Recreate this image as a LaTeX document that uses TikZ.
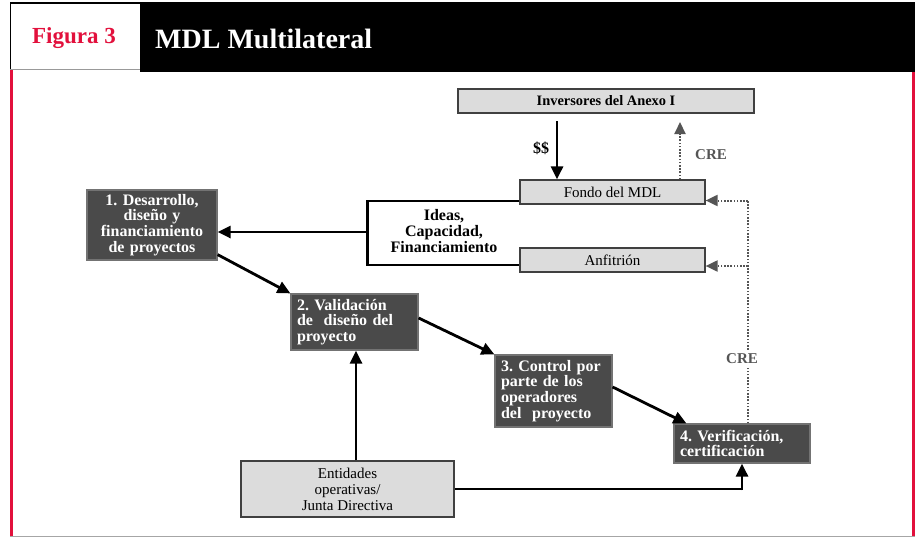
\documentclass[tikz,border=0pt]{standalone}
\usepackage{fontspec}
\setmainfont{Liberation Serif}
\usetikzlibrary{arrows.meta}
\definecolor{crim}{HTML}{E2103C}
\definecolor{darkbox}{HTML}{4A4A4A}
\definecolor{lightbox}{HTML}{DCDCDC}
\definecolor{dotgray}{HTML}{555555}
\frenchspacing
\tikzset{
  lightnode/.style={draw=black!75, fill=lightbox, line width=1.2pt, inner sep=0pt, align=center, font=\fontsize{15}{16}\selectfont},
  darknode/.style={draw=black!55, fill=darkbox, text=white, line width=1.2pt, inner xsep=6pt, inner ysep=0pt, font=\bfseries\fontsize{16}{15.7}\selectfont},
  arr/.style={line width=2.8pt, -{Triangle[length=13pt,width=12pt]}},
  solidline/.style={line width=2.8pt},
  dotline/.style={dotgray, line width=2pt, dash pattern=on 1.6pt off 1.6pt},
  dotarr/.style={dotline, -{Triangle[length=12pt,width=11pt,fill=dotgray]}},
  lbl/.style={font=\bfseries\fontsize{16}{15.7}\selectfont, align=center, inner sep=1pt},
}
\begin{document}
\begin{tikzpicture}[x=1pt,y=-1pt]
\useasboundingbox (0,0) rectangle (915,538);
% frame
\fill[black] (140,2) rectangle (915,72);
\draw[black, line width=1.3pt] (10.6,69) -- (10.6,3) -- (140,3);
\draw[black!40, line width=1.2pt] (10,69.6) -- (140,69.6);
\draw[crim, line width=2.6pt] (11.3,70) -- (11.3,536);
\draw[crim, line width=2.6pt] (913.6,72) -- (913.6,536);
\draw[black!35, line width=1.4pt] (10,536.6) -- (915,536.6);
\node[text=crim, font=\bfseries\fontsize{23}{25}\selectfont] (fig) at (74,38) {Figura 3};
\node[text=white, font=\bfseries\fontsize{28}{30}\selectfont, anchor=west, inner sep=0pt] (title) at (155,39) {MDL Multilateral};

% light boxes
\node[lightnode, minimum width=296pt, minimum height=24pt, font=\bfseries\fontsize{14.4}{15}\selectfont] (inv) at (606,101) {Inversores del Anexo I};
\node[lightnode, minimum width=185pt, minimum height=24pt] (fondo) at (612.5,192) {Fondo del MDL};
\node[lightnode, minimum width=185pt, minimum height=24pt] (anf) at (612.5,260) {Anfitrión};
\node[lightnode, minimum width=213pt, minimum height=56pt] (ent) at (347.5,489) {Entidades\\operativas/\\Junta Directiva};

% dark boxes
\node[darknode, minimum width=130pt, minimum height=70pt, text width=118pt, align=center] (n1) at (152,225) {1. Desarrollo,\\diseño y\\financiamiento\\de proyectos};
\node[darknode, minimum width=127pt, minimum height=56pt, text width=115pt, align=left] (n2) at (354.5,322) {2. Validación\\de~ diseño del\\proyecto};
\node[darknode, minimum width=117pt, minimum height=72pt, text width=105pt, align=left] (n3) at (553.5,391) {3. Control por\\parte de los\\operadores\\del~ proyecto};
\node[darknode, minimum width=136pt, minimum height=39pt, text width=124pt, align=left] (n4) at (742,443.5) {4. Verificación,\\certificación};

% $$ arrow
\coordinate (ds) at (557,121);
\draw[arr] (ds) -- (ds |- fondo.north);
\node[lbl] (dollar) at (541,148) {\$\$};

% CRE up to investors
\coordinate (cu) at (680,122);
\draw[dotarr] (cu |- fondo.north) -- (cu);
\node[lbl, text=dotgray, font=\bfseries\fontsize{15}{15}\selectfont] (cre1) at (711,155) {CRE};

% bracket from Fondo / Anfitrion to node 1
\coordinate (bt) at (367.5,201);
\coordinate (bb) at (367.5,265);
\coordinate (bm) at (367.5,232);
\draw[solidline] (fondo.west |- bt) -- (bt) -- (bb) -- (anf.west |- bb);
\draw[arr] (bm) -- (n1.east |- bm);
\node[lbl] (ideas) at (444,231) {Ideas,\\Capacidad,\\Financiamiento};

% process arrows
\draw[arr] ([yshift=6pt]n1.south east) -- (n2.north west);
\draw[arr] ([yshift=4pt]n2.east) -- (n3.north west);
\draw[arr] ([yshift=4pt]n3.east) -- ([xshift=13pt]n4.north west);

% Entidades arrows
\coordinate (ev) at (356,400);
\draw[arr] (ent.north -| ev) -- (n2.south -| ev);
\draw[line width=2.8pt] (ent.east) -- (n4.south |- ent.east);
\draw[arr] ([yshift=-1.4pt]n4.south |- ent.east) -- (n4.south);

% CRE from verification
\coordinate (rt) at (748,200.5);
\coordinate (rm) at (748,266);
\draw[dotline] (n4.north -| rt) -- (rt);
\draw[dotarr] (rt) -- (fondo.east |- rt);
\draw[dotarr] (rm) -- (anf.east |- rm);
\node[lbl, text=dotgray, fill=white, font=\bfseries\fontsize{15}{15}\selectfont, inner ysep=4pt] (cre2) at (742,359) {CRE};
\end{tikzpicture}
\end{document}
